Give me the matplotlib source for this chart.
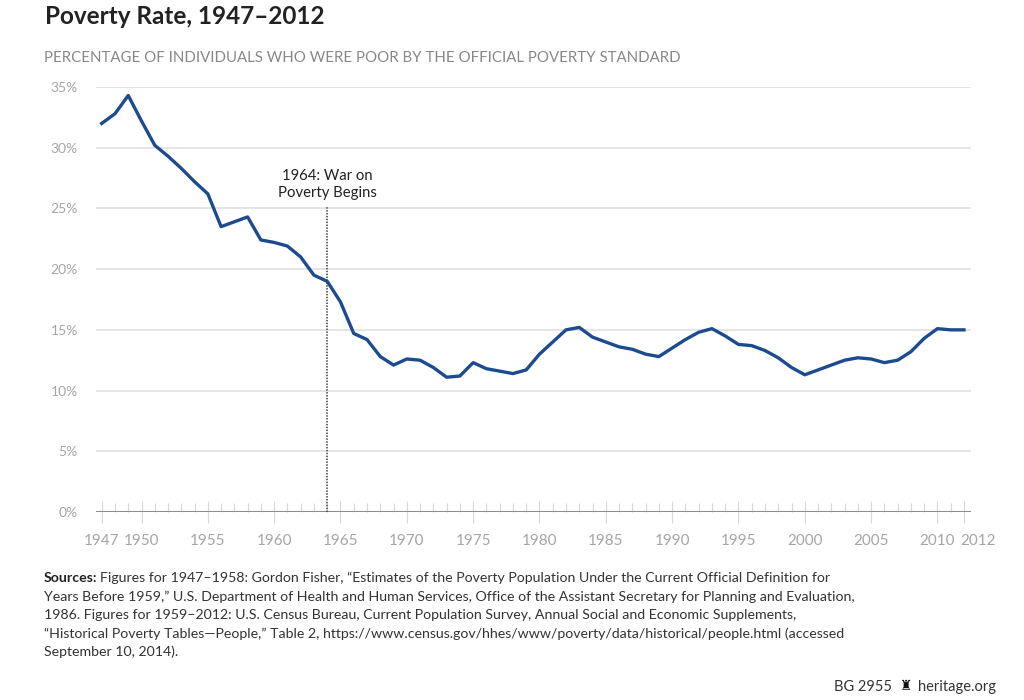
import matplotlib
matplotlib.use('Agg')
import matplotlib.pyplot as plt
import matplotlib.transforms as mtransforms

plt.rcParams['font.family'] = ['Lato', 'DejaVu Sans']

# Armutsquote in Prozent, 1947-2012
jahre = list(range(1947, 2012 + 1))
quote = [32.0, 32.8, 34.3, 32.2, 30.2, 29.3, 28.3, 27.2, 26.2, 23.5, 23.9, 24.3,
         22.4, 22.2, 21.9, 21.0, 19.5, 19.0, 17.3, 14.7, 14.2, 12.8, 12.1, 12.6,
         12.5, 11.9, 11.1, 11.2, 12.3, 11.8, 11.6, 11.4, 11.7, 13.0, 14.0, 15.0,
         15.2, 14.4, 14.0, 13.6, 13.4, 13.0, 12.8, 13.5, 14.2, 14.8, 15.1, 14.5,
         13.8, 13.7, 13.3, 12.7, 11.9, 11.3, 11.7, 12.1, 12.5, 12.7, 12.6, 12.3,
         12.5, 13.2, 14.3, 15.1, 15.0, 15.0]

xticks = [1947, 1950, 1955, 1960, 1965, 1970, 1975, 1980, 1985, 1990, 1995,
          2000, 2005, 2010, 2012]
yticks = [0, 5, 10, 15, 20, 25, 30, 35]

blau = '#1c4b8f'
grau = '#a5a5a5'

fig = plt.figure(figsize=(10.24, 7), dpi=100)
ax = fig.add_axes([96 / 1024, 1 - 512 / 700, (971 - 96) / 1024, (512 - 87) / 700])

ax.plot(jahre, quote, color=blau, lw=2.4, solid_joinstyle='round', zorder=3, clip_on=False)

ax.set_xlim(1946.57, 2012.53)
ax.set_ylim(0, 35)

for y in yticks[1:]:
    ax.axhline(y, color='#e3e3e3', lw=1.3, zorder=1)
ax.axhline(0, color='#8c8c8c', lw=2.2, zorder=2)

# 1964 Markierung
ax.plot([1964, 1964], [0, 25.1], color='#555555', lw=1.3, ls=(0, (0.8, 0.8)), zorder=2)
ax.text(1964, 26.95, '1964: War on\nPoverty Begins', ha='center', va='center',
        fontsize=10.7, color='#222222', linespacing=1.3)

for s in ax.spines.values():
    s.set_visible(False)

ax.set_yticks(yticks)
ax.set_yticklabels([f'{y}%' for y in yticks], fontsize=10, color=grau)
ax.tick_params(axis='y', length=0, pad=13)

ax.set_xticks(xticks)
ax.set_xticklabels([str(j) for j in xticks], fontsize=11, color=grau)
ax.set_xticks(jahre, minor=True)
ax.tick_params(axis='x', which='major', direction='inout', length=16, width=0.8,
               color='#d8d8d8', pad=8)
ax.tick_params(axis='x', which='minor', direction='in', length=6.5, width=0.8,
               color='#d8d8d8')
# 2012 steht etwas rechts vom Strich
lab = ax.get_xticklabels()[-1]
lab.set_horizontalalignment('left')
lab.set_transform(lab.get_transform() + mtransforms.ScaledTranslation(-4 / 100, 0, fig.dpi_scale_trans))

fig.text(45 / 1024, 1 - 17 / 700, 'Poverty Rate, 1947–2012', fontsize=17.5,
         fontweight='bold', color='#222222', va='center')
fig.text(44 / 1024, 1 - 58 / 700,
         'PERCENTAGE OF INDIVIDUALS WHO WERE POOR BY THE OFFICIAL POVERTY STANDARD',
         fontsize=10.8, color='#888888', va='center')

zeilen = [
    'Figures for 1947–1958: Gordon Fisher, “Estimates of the Poverty Population Under the Current Official Definition for',
    'Years Before 1959,” U.S. Department of Health and Human Services, Office of the Assistant Secretary for Planning and Evaluation,',
    '1986. Figures for 1959–2012: U.S. Census Bureau, Current Population Survey, Annual Social and Economic Supplements,',
    '“Historical Poverty Tables—People,” Table 2, https://www.census.gov/hhes/www/poverty/data/historical/people.html (accessed',
    'September 10, 2014).',
]
r = fig.canvas.get_renderer()
t = fig.text(44 / 1024, 1 - 578 / 700, 'Sources:', fontsize=10.2, fontweight='bold',
             color='#222222', va='center')
bb = t.get_window_extent(renderer=r)
fig.text((bb.x1 + 3) / 1024, 1 - 578 / 700, zeilen[0], fontsize=10.2, color='#333333', va='center')
for i, z in enumerate(zeilen[1:]):
    fig.text(44 / 1024, 1 - (596.5 + 18.5 * i) / 700, z, fontsize=10.2, color='#333333', va='center')

fig.text(996 / 1024, 1 - 687 / 700, 'heritage.org', fontsize=10.5, color='#333333',
         ha='right', va='center')
fig.text(906 / 1024, 1 - 686 / 700, '♜', fontsize=10, color='#111111',
         ha='center', va='center', family='DejaVu Sans')
fig.text(892 / 1024, 1 - 687 / 700, 'BG 2955', fontsize=10.5, color='#333333',
         ha='right', va='center')

fig.savefig('out.png', dpi=100)
